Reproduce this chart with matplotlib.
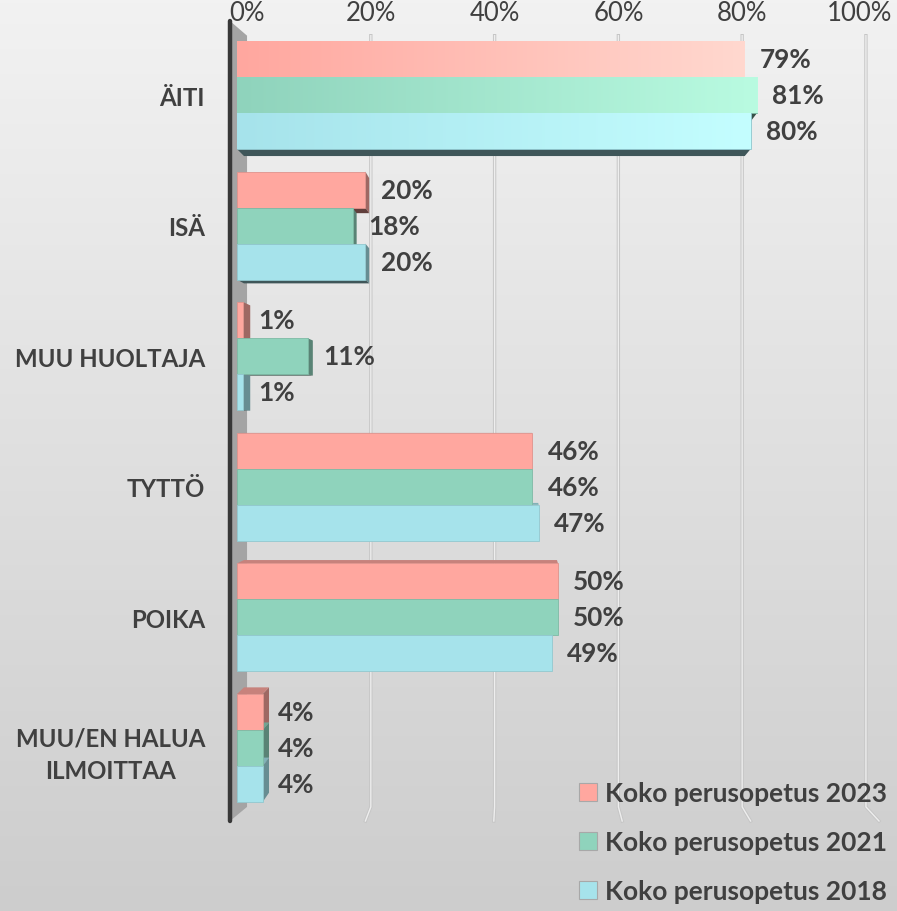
import matplotlib.pyplot as plt
import matplotlib.colors as mcolors
import matplotlib.transforms as mtransforms
from matplotlib.patches import Polygon, Patch
from matplotlib.ticker import PercentFormatter
import numpy as np

categories = ['ÄITI', 'ISÄ', 'MUU HUOLTAJA', 'TYTTÖ', 'POIKA', 'MUU/EN HALUA\nILMOITTAA']
series = ['Koko perusopetus 2023', 'Koko perusopetus 2021', 'Koko perusopetus 2018']
v2023 = [0.79, 0.20, 0.01, 0.46, 0.50, 0.04]
v2021 = [0.81, 0.18, 0.11, 0.46, 0.50, 0.04]
v2018 = [0.80, 0.20, 0.01, 0.47, 0.49, 0.04]
xticks = [0, 0.2, 0.4, 0.6, 0.8, 1.0]

colors = ['#FFA79F', '#8FD3BC', '#A6E3EB']
light = ['#FFD8CF', '#B9FBE1', '#C4FEFF']   # gradient end for highlighted group
highlight = ['ÄITI']

plt.rcParams['font.family'] = ['Lato', 'DejaVu Sans']
txt = '#404040'
fs_cat = 17.3
fs_val = 18.8
fs_leg = 19
fs_tick = 18.5

W, H = 897, 912
fig = plt.figure(figsize=(W / 100, H / 100), dpi=100)

# background gradient
bg = fig.add_axes([0, 0, 1, 1], zorder=-5)
grad = np.linspace(0, 1, 256).reshape(-1, 1)
bg_cmap = mcolors.LinearSegmentedColormap.from_list('bg', ['#F2F2F2', '#CDCDCD'])
bg.imshow(grad, aspect='auto', cmap=bg_cmap, extent=[0, 1, 0, 1])
bg.axis('off')

ax = fig.add_axes([237 / W, 1 - 822 / H, (879 - 237) / W, 800 / H])
ax.set_facecolor('none')
YTOP, YBOT = -0.567, 5.559
for s in ax.spines.values():
    s.set_visible(False)

# perspective: back faces are the front scaled toward a vanishing point
VX, VY = 0.4346, 2.557
S_BAR, S_WALL = 0.975, 0.964


def back(x, y, s):
    return VX + s * (x - VX), VY + s * (y - VY)


def darker(c, f):
    r, g, b = mcolors.to_rgb(c)
    return (r * f, g * f, b * f)


# left wall
wx = -7 / 642
bx0, by0 = back(0, YTOP, S_WALL)
_, by1 = back(0, YBOT, S_WALL)
ax.add_patch(Polygon([(wx, YTOP), (bx0, by0), (bx0, by1), (wx, YBOT)],
                     closed=True, fc='#A4A4A4', ec='none', clip_on=False, zorder=1))
ax.plot([wx, wx], [YTOP, YBOT], color='#383838', lw=3.2, clip_on=False, zorder=6,
        solid_capstyle='round')

# gridlines on the back plane
for t in xticks[1:]:
    gx, _ = back(t, 0, S_WALL)
    for lw, c in [(2.4, '#C6C6C6'), (1.0, '#EEEEEE')]:
        ax.plot([gx, gx, t], [by0, by1, YBOT], color=c, lw=lw, zorder=2, clip_on=False)

# bars
bh = 0.2757
y = np.arange(len(categories))
offsets = [-bh, 0, bh]
vals = [v2023, v2021, v2018]
for k, (vs, c) in enumerate(zip(vals, colors)):
    bars = ax.barh(y + offsets[k], vs, height=bh, color=c, edgecolor=darker(c, 0.88),
                   linewidth=0.6, zorder=5, label=series[k])
    for i, (b, v) in enumerate(zip(bars, vs)):
        y0, y1 = b.get_y(), b.get_y() + bh
        fx = [(0, y0), (v, y0), (v, y1), (0, y1)]
        bk = [back(px, py, S_BAR) for px, py in fx]
        faces = []
        if bk[1][0] > v:   # right side visible
            faces.append(([fx[1], bk[1], bk[2], fx[2]], darker(c, 0.62)))
        if bk[0][1] < y0:  # top visible
            faces.append(([fx[0], bk[0], bk[1], fx[1]], darker(c, 0.78)))
        if bk[3][1] > y1:  # bottom visible
            faces.append(([fx[3], bk[3], bk[2], fx[2]], darker(c, 0.38)))
        for pts, fc in faces:
            ax.add_patch(Polygon(pts, closed=True, fc=fc, ec='none', zorder=4))
        if categories[i] in highlight:
            cm = mcolors.LinearSegmentedColormap.from_list('g', [c, light[k]])
            im = ax.imshow(np.linspace(0, 1, 256).reshape(1, -1), cmap=cm, aspect='auto',
                           extent=[0, v, y1, y0], zorder=5.5)
            im.set_clip_path(b)
        ax.annotate(f'{v * 100:.0f}%', xy=(v, b.get_y() + bh / 2), xytext=(11, 0),
                    textcoords='offset points', ha='left', va='center',
                    fontsize=fs_val, fontweight='bold', color=txt, zorder=7)

ax.set_xlim(0, 1)
ax.set_ylim(YBOT, YTOP)
ax.set_xticks([])
ax.set_yticks(y, categories)
ax.tick_params(axis='y', length=0, pad=23, labelsize=fs_cat, labelcolor=txt)
for lab in ax.get_yticklabels():
    lab.set_fontweight('bold')
    lab.set_multialignment('center')
    lab.set_linespacing(1.45)

# percent axis on the back plane
top_loc = (YBOT - by0) / (YBOT - YTOP)
sec = ax.secondary_xaxis(top_loc, functions=(lambda x: VX + (x - VX) / S_WALL,
                                             lambda t: VX + S_WALL * (t - VX)))
sec.set_xticks(xticks)
sec.xaxis.set_major_formatter(PercentFormatter(1.0, decimals=0))
sec.tick_params(length=0, pad=8, labelsize=fs_tick, labelcolor=txt)
sec.spines['top'].set_visible(False)
# keep the last label inside the figure, as the original does
last = sec.get_xticklabels()[-1]
last.set_transform(last.get_transform() +
                   mtransforms.ScaledTranslation(-6 / 100, 0, fig.dpi_scale_trans))

handles = [Patch(fc=c, ec='#A8A8A8', lw=0.8) for c in colors]
fig.legend(handles, series, loc='upper left', bbox_to_anchor=(579 / W, 1 - 782 / H),
           frameon=False, prop={'weight': 'bold', 'size': fs_leg},
           labelcolor=txt, handlelength=0.68, handleheight=0.68, handletextpad=0.3,
           labelspacing=0.95, borderpad=0, borderaxespad=0)

fig.savefig('out.png', dpi=100)
